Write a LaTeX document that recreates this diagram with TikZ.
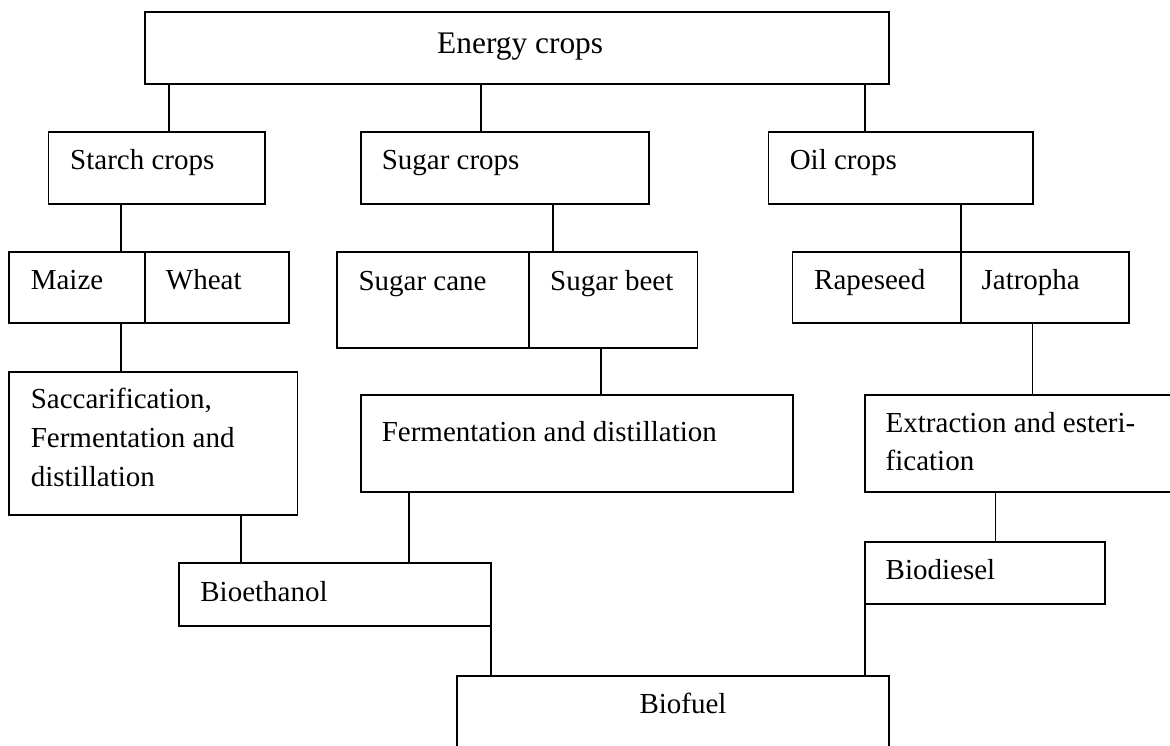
\documentclass[tikz,border=0pt]{standalone}
\usepackage{fontspec}
\setmainfont{Liberation Serif}
\begin{document}
\begin{tikzpicture}[x=1pt,y=-1pt,
  box/.style={draw, line width=1.7pt, inner sep=0pt, outer sep=0pt, anchor=north west},
  lbl/.style={anchor=base west, inner sep=0pt, font=\fontsize{29}{38}\selectfont},
  conn/.style={line width=1.7pt}]
\useasboundingbox (0,0) rectangle (1170,746);
\fill[white] (0,0) rectangle (1170,746);
\clip (0,0) rectangle (1170,746);
% boxes
\node[box, minimum width=744.6pt, minimum height=71.7pt] (energy) at (144.7,12) {};
\node[box, minimum width=216.2pt, minimum height=72pt] (starch) at (48.6,131.7) {};
\node[box, minimum width=287.9pt, minimum height=72pt] (sugar) at (360.9,131.7) {};
\node[box, minimum width=264.8pt, minimum height=72pt] (oil) at (768.5,131.7) {};
\node[box, minimum width=136.2pt, minimum height=71.6pt] (maize) at (8.8,251.7) {};
\node[box, minimum width=144.3pt, minimum height=71.6pt] (wheat) at (145,251.7) {};
\node[box, minimum width=192.1pt, minimum height=96pt] (cane) at (336.8,251.7) {};
\node[box, minimum width=168.5pt, minimum height=96pt] (beet) at (528.9,251.7) {};
\node[box, minimum width=168.1pt, minimum height=71.6pt] (rape) at (792.6,251.7) {};
\node[box, minimum width=168.2pt, minimum height=71.6pt] (jatro) at (960.7,251.7) {};
\node[box, minimum width=288.6pt, minimum height=143.6pt] (sacc) at (8.8,371.7) {};
\node[box, minimum width=432pt, minimum height=96.7pt] (ferm) at (360.9,395) {};
\node[box, minimum width=330pt, minimum height=96.7pt] (extr) at (864.8,395) {};
\node[box, minimum width=312.3pt, minimum height=62.4pt] (bioeth) at (178.7,563.3) {};
\node[box, minimum width=240.4pt, minimum height=62.3pt] (biodiesel) at (864.8,542) {};
\node[box, minimum width=432.6pt, minimum height=100pt] (biofuel) at (456.7,675.7) {};
% texts
\node[lbl, font=\fontsize{31.4}{38}\selectfont] (t-energy) at (437,53.3) {Energy crops};
\node[lbl] (t-starch) at (70,170) {Starch crops};
\node[lbl] (t-sugar) at (381.6,170) {Sugar crops};
\node[lbl] (t-oil) at (789.6,170) {Oil crops};
\node[lbl] (t-maize) at (30.6,289.5) {Maize};
\node[lbl] (t-wheat) at (165.7,289.5) {Wheat};
\node[lbl] (t-cane) at (358.3,290) {Sugar cane};
\node[lbl] (t-beet) at (550,290) {Sugar beet};
\node[lbl] (t-rape) at (814,289.5) {Rapeseed};
\node[lbl] (t-jatro) at (981.4,289.5) {Jatropha};
\node[lbl] (t-sacc1) at (30.6,408) {Saccarification,};
\node[lbl] (t-sacc2) at (30.6,447) {Fermentation and};
\node[lbl] (t-sacc3) at (30.6,486) {distillation};
\node[lbl] (t-ferm) at (381.6,441.7) {Fermentation and distillation};
\node[lbl] (t-extr1) at (885.5,432.7) {Extraction and esteri-};
\node[lbl] (t-extr2) at (885.5,470.5) {fication};
\node[lbl] (t-bioeth) at (200.2,601.7) {Bioethanol};
\node[lbl] (t-biodiesel) at (885.5,579.3) {Biodiesel};
\node[lbl] (t-biofuel) at (639.3,713) {Biofuel};
% connector x positions
\coordinate (c1) at (168.8,0);
\coordinate (c2) at (480.7,0);
\coordinate (c3) at (864.8,0);
\coordinate (c4) at (121.3,0);
\coordinate (c5) at (553,0);
\coordinate (c7) at (600.7,0);
\coordinate (c8) at (1032.6,0);
\coordinate (c9) at (240.7,0);
\coordinate (c10) at (408.7,0);
\coordinate (c11) at (995.4,0);
% connectors
\draw[conn] (energy.south -| c1) -- (starch.north -| c1);
\draw[conn] (energy.south -| c2) -- (sugar.north -| c2);
\draw[conn] (energy.south -| c3) -- (oil.north -| c3);
\draw[conn] (starch.south -| c4) -- (maize.north -| c4);
\draw[conn] (sugar.south -| c5) -- (beet.north -| c5);
\draw[conn] (oil.south -| jatro.north west) -- (jatro.north west);
\draw[conn] (maize.south -| c4) -- (sacc.north -| c4);
\draw[conn] (beet.south -| c7) -- (ferm.north -| c7);
\draw[conn] (jatro.south -| c8) -- (extr.north -| c8);
\draw[conn] (sacc.south -| c9) -- (bioeth.north -| c9);
\draw[conn] (ferm.south -| c10) -- (bioeth.north -| c10);
\draw[conn] (bioeth.south east) -- (biofuel.north -| bioeth.south east);
\draw[conn] (extr.south -| c11) -- (biodiesel.north -| c11);
\draw[conn] (biodiesel.south west) -- (biofuel.north -| biodiesel.south west);
\end{tikzpicture}
\end{document}
